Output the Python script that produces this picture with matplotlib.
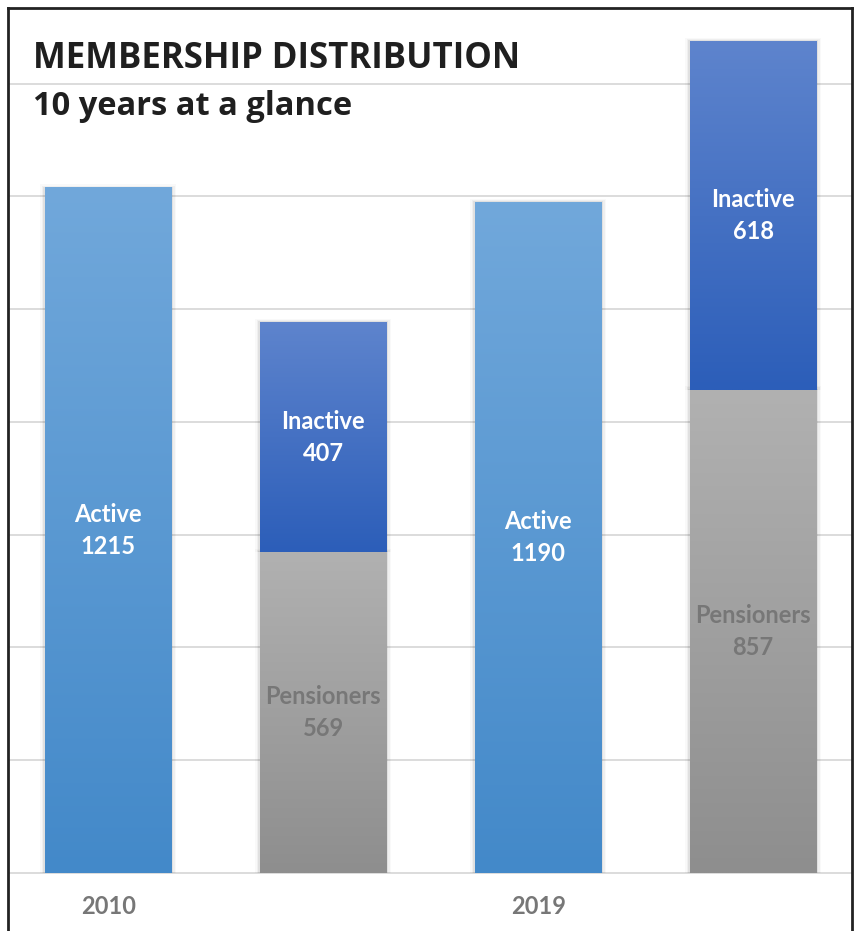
import numpy as np
import matplotlib
matplotlib.use("Agg")
from matplotlib import pyplot as plt
from matplotlib.colors import LinearSegmentedColormap

# data
bar_pos = [0, 1, 2, 3]
year_ticks = [0, 2]
year_labels = ["2010", "2019"]
active = [1215, 0, 1190, 0]
pensioners = [0, 569, 0, 857]
inactive = [0, 407, 0, 618]

# gradient colours (top, bottom)
active_cols = ("#71a8db", "#4389c9")
inactive_cols = ("#5e84cd", "#2c5eb9")
pension_cols = ("#b1b1b1", "#8e8e8e")

fig = plt.figure(figsize=(8.55, 9.31), dpi=100)
ax = fig.add_axes([8 / 855, 0, 844 / 855, 923 / 931])

width = 0.59


def grad_bars(bars, cols, z=3):
    cmap = LinearSegmentedColormap.from_list("g", [cols[1], cols[0]])
    grad = np.linspace(0, 1, 256).reshape(-1, 1)
    for p in bars:
        if p.get_height() <= 0:
            continue
        x0, y0 = p.get_x(), p.get_y()
        x1, y1 = x0 + p.get_width(), y0 + p.get_height()
        # soft shadow
        for k, a in enumerate([0.06, 0.04, 0.025]):
            d = 0.007 * (k + 1)
            ax.add_patch(plt.Rectangle((x0 - d, y0), p.get_width() + 2 * d,
                                       p.get_height() + 2 * (k + 1),
                                       color="black", alpha=a, lw=0, zorder=z - 1))
        ax.imshow(grad, extent=[x0, x1, y0, y1], origin="lower", cmap=cmap,
                  aspect="auto", zorder=z, interpolation="bilinear")
        p.set_facecolor("none")


b_act = ax.bar(bar_pos, active, width, color="none", lw=0, zorder=4)
b_pen = ax.bar(bar_pos, pensioners, width, color="none", lw=0, zorder=4)
bottoms = [p for p in pensioners]
b_ina = ax.bar(bar_pos, inactive, width, bottom=bottoms, color="none", lw=0, zorder=4)

grad_bars(b_act, active_cols)
grad_bars(b_pen, pension_cols)
grad_bars(b_ina, inactive_cols)

lab_font = dict(family="Lato", fontweight="bold", fontsize=17, ha="center",
                va="center", linespacing=1.5, zorder=6)


def seg_labels(bars, name, vals, color, bots=None):
    for i, p in enumerate(bars):
        if vals[i] <= 0:
            continue
        b = bots[i] if bots else 0
        ax.text(p.get_x() + p.get_width() / 2, b + vals[i] / 2,
                "%s\n%d" % (name, vals[i]), color=color, **lab_font)


seg_labels(b_act, "Active", active, "white")
seg_labels(b_ina, "Inactive", inactive, "white", bottoms)
seg_labels(b_pen, "Pensioners", pensioners, "#777777")

ax.set_yticks(range(0, 1600, 200))
ax.yaxis.grid(True, color="#d9d9d9", lw=1.3, zorder=0)
ax.set_axisbelow(True)
ax.tick_params(axis="y", left=False, labelleft=False)

ax.set_xticks(year_ticks)
ax.set_xticklabels(year_labels, fontfamily="Lato", fontweight="bold",
                   fontsize=17, color="#777777")
ax.tick_params(axis="x", length=0, pad=0)
for lab in ax.get_xticklabels():
    lab.set_y(0.039)

ax.set_xlim(-0.467, 3.46)
ax.set_ylim(-103, 1534)

for s in ["left", "right", "top"]:
    ax.spines[s].set_color("#222222")
    ax.spines[s].set_linewidth(2)
ax.spines["bottom"].set_visible(False)

fig.text(33 / 855, 1 - 68 / 931, "MEMBERSHIP DISTRIBUTION", family="Open Sans",
         fontweight="bold", fontsize=25, color="#1f1f1f", va="baseline")
fig.text(33 / 855, 1 - 115 / 931, "10 years at a glance", family="Open Sans",
         fontweight="bold", fontsize=23.5, color="#1f1f1f", va="baseline")

plt.savefig("out.png", dpi=100)
